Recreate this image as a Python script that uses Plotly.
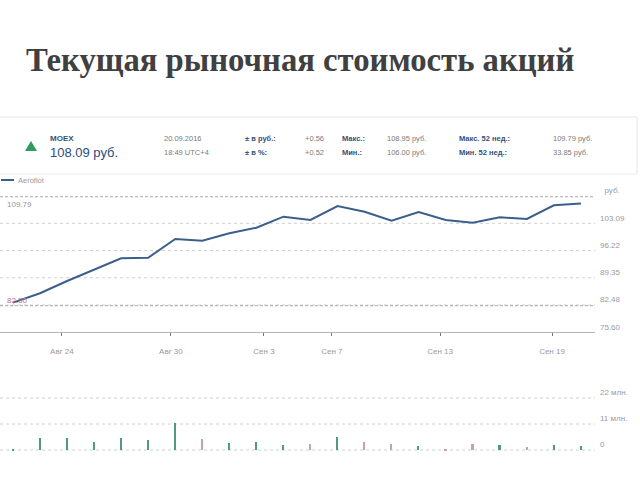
import plotly.graph_objects as go

# ---------------- data ----------------
dates = ["22.08", "23.08", "24.08", "25.08", "26.08", "29.08", "30.08", "31.08",
         "01.09", "02.09", "05.09", "06.09", "07.09", "08.09", "09.09", "12.09",
         "13.09", "14.09", "15.09", "16.09", "19.09", "20.09"]
price = [83.07, 85.44, 88.54, 91.31, 94.26, 94.41, 99.13, 98.70, 100.57, 101.98,
         104.76, 103.92, 107.45, 106.02, 103.75, 105.94, 103.92, 103.24, 104.60,
         104.18, 107.63, 108.09]
volume = [0.5, 4.9, 4.9, 3.2, 4.9, 4.2, 11.6, 4.7, 2.8, 3.2, 2.1, 2.4, 5.6, 3.4,
          2.4, 1.7, 0.6, 2.4, 2.0, 1.3, 2.0, 1.7]  # млн.

x_tick_pos = [1.81, 5.84, 9.28, 11.79, 15.79, 19.93]
x_tick_text = ["Авг 24", "Авг 30", "Сен 3", "Сен 7", "Сен 13", "Сен 19"]
price_ticks = [75.60, 82.48, 89.35, 96.22, 103.09, 109.96]
price_tick_text = ["75.60", "82.48", "89.35", "96.22", "103.09", "  руб."]
vol_ticks = [0, 11, 22]
vol_tick_text = ["0", "11 млн.", "22 млн."]
max52_line = 109.79
min_line = 82.30

title = "Текущая рыночная стоимость акций"
ticker = "MOEX"
last_price = "108.09 руб."
info_rows = [
    ["20.09.2016", "± в руб.:", "+0.56", "Макс.:", "108.95 руб.", "Макс. 52 нед.:", "109.79 руб."],
    ["18:49 UTC+4", "± в %:", "+0.52", "Мин.:", "106.00 руб.", "Мин. 52 нед.:", "33.85 руб."],
]
series_name = "Aeroflot"

# ---------------- helpers ----------------
W, H = 640, 480
def px(x):
    return x / W
def py(y):
    return 1 - y / H

x_idx = list(range(len(dates)))
bar_colors = []
for i, p in enumerate(price):
    if i > 0 and p < price[i - 1]:
        bar_colors.append("#c9a0ab")
    else:
        bar_colors.append("#4f9a84")

fig = go.Figure()
fig.add_trace(go.Scatter(x=x_idx, y=price, mode="lines",
                         line=dict(color="#3b5f8c", width=2),
                         name=series_name, xaxis="x", yaxis="y",
                         hovertext=dates, showlegend=False))
fig.add_trace(go.Bar(x=x_idx, y=volume, marker=dict(color=bar_colors, line=dict(width=0)),
                     width=0.06, xaxis="x2", yaxis="y2", showlegend=False,
                     hovertext=dates))

xr = [-0.48, 21.52]
grid_col = "#d0d0d0"
txt_col = "#9a9a9a"

fig.update_layout(
    width=W, height=H,
    margin=dict(l=0, r=0, t=0, b=0),
    paper_bgcolor="white", plot_bgcolor="white",
    font=dict(family="Liberation Sans, Arial, sans-serif", size=8, color=txt_col),
    xaxis=dict(domain=[0, px(595)], range=xr, tickvals=x_tick_pos, ticktext=x_tick_text,
               showgrid=False, zeroline=False, showline=True, linecolor="#b5b5b5",
               linewidth=1, ticks="outside", ticklen=3, tickcolor="#777",
               tickfont=dict(size=8, color=txt_col), anchor="y", ticklabelstandoff=8),
    yaxis=dict(domain=[py(332.3), py(185)], range=[75.60, 112.75],
               tickvals=price_ticks, ticktext=price_tick_text, side="right",
               showgrid=False, zeroline=False, showline=False, ticks="",
               ticklabelposition="outside top",
               tickfont=dict(size=8, color=txt_col), anchor="x", ticklabelstandoff=4),
    xaxis2=dict(domain=[0, px(595)], range=xr, showticklabels=False, showgrid=False,
                zeroline=False, showline=False, ticks="", anchor="y2"),
    yaxis2=dict(domain=[py(458), py(385)], range=[-3.38, 27.5],
                tickvals=vol_ticks, ticktext=vol_tick_text, side="right",
                showgrid=False, zeroline=False, showline=False, ticks="",
                ticklabelposition="outside top",
                tickfont=dict(size=8, color=txt_col), anchor="x2", ticklabelstandoff=4),
    bargap=0,
)

shapes = []
# price gridlines (dotted)
for v in price_ticks[1:5]:
    shapes.append(dict(type="line", xref="x domain", yref="y", x0=0, x1=1, y0=v, y1=v,
                       line=dict(color=grid_col, width=1, dash="dot"), layer="below"))
# reference lines (dashed)
for v in [max52_line, min_line]:
    shapes.append(dict(type="line", xref="x domain", yref="y", x0=0, x1=1, y0=v, y1=v,
                       line=dict(color="#a8a8a8", width=1, dash="3px,2px"), layer="below"))
# volume gridlines
for v in vol_ticks:
    shapes.append(dict(type="line", xref="x2 domain", yref="y2", x0=0, x1=1, y0=v, y1=v,
                       line=dict(color=grid_col, width=1, dash="dot"), layer="below"))
# widget frame (header part)
shapes.append(dict(type="line", xref="paper", yref="paper", x0=px(0), x1=px(637),
                   y0=py(117), y1=py(117), line=dict(color="#e6e6e6", width=1)))
shapes.append(dict(type="line", xref="paper", yref="paper", x0=px(637), x1=px(637),
                   y0=py(117), y1=py(174), line=dict(color="#e6e6e6", width=1)))
shapes.append(dict(type="line", xref="paper", yref="paper", x0=px(0), x1=px(637),
                   y0=py(174), y1=py(174), line=dict(color="#ececec", width=1)))
# up triangle
shapes.append(dict(type="path", xref="paper", yref="paper",
                   path=f"M {px(25)},{py(151)} L {px(37)},{py(151)} L {px(31)},{py(141)} Z",
                   fillcolor="#2f9b5f", line=dict(width=0)))
# legend swatch
shapes.append(dict(type="line", xref="paper", yref="paper", x0=px(1), x1=px(14),
                   y0=py(180), y1=py(180), line=dict(color="#3b5f8c", width=2)))
fig.update_layout(shapes=shapes)

ann = []
def add_text(x, y, text, size=8, color="#888", bold=False, family=None, anchor="left"):
    t = f"<b>{text}</b>" if bold else text
    d = dict(x=px(x), y=py(y), xref="paper", yref="paper", text=t, showarrow=False,
             xanchor=anchor, yanchor="middle", font=dict(size=size, color=color))
    if family:
        d["font"]["family"] = family
    ann.append(d)

add_text(24, 60, title, size=32.7, color="#404040", bold=True,
         family="Liberation Serif, Times New Roman, serif")
add_text(48, 138, ticker, size=8, color="#34507a", bold=True)
add_text(48, 152, last_price, size=13, color="#2b4c7e")

col_x = [162, 243, 303, 340, 385, 457, 551]
bold_cols = [1, 3, 5]
for r, row in enumerate(info_rows):
    yy = 138 + 14 * r
    for c, t in enumerate(row):
        if c in bold_cols:
            add_text(col_x[c], yy, t, size=7.5, color="#34507a", bold=True)
        else:
            add_text(col_x[c], yy, t, size=7.5, color="#7a7a7a")

add_text(16, 180, series_name, size=7.5, color="#9a9a9a")
ann.append(dict(x=px(5), xref="paper", y=max52_line, yref="y", text=f"{max52_line:.2f}",
                showarrow=False, xanchor="left", yanchor="top", yshift=-1,
                font=dict(size=8, color="#999")))
ann.append(dict(x=px(5), xref="paper", y=min_line, yref="y", text=f"{min_line:.2f}",
                showarrow=False, xanchor="left", yanchor="bottom", yshift=-1,
                font=dict(size=8, color="#c0708a")))
fig.update_layout(annotations=ann)

fig.write_html("out.html")
